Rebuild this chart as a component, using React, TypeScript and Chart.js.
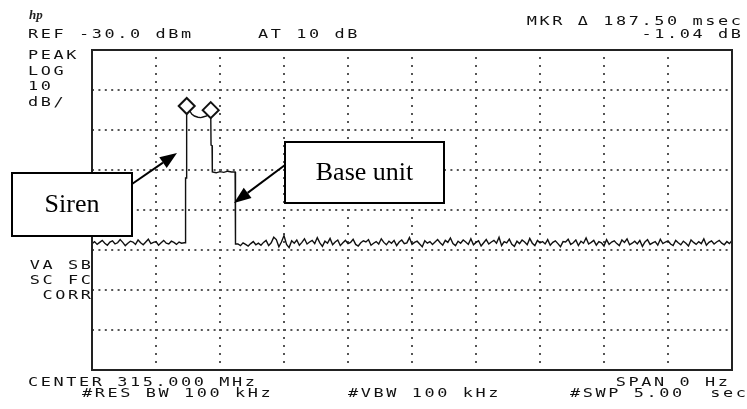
import React, { useEffect, useRef } from "react";
import { Chart, registerables } from "chart.js";

Chart.register(...registerables);

// ---- Instrument settings ----
const sweepTimeSec = 5;
const secPerDiv = 0.5;
const refLevelDbm = -30;
const dbPerDiv = 10;
const logDivisions = 8;

// ---- Trace data (time in s, level in dBm) ----
const noiseStepSec = 0.02;
const noiseBeforeStartSec = 0;
const noiseBeforeDbm = [
  -78.4, -77.9, -78.6, -78.1, -77.6, -78.3, -78.8, -78.0, -77.7, -78.5,
  -78.2, -77.4, -78.1, -78.9, -78.3, -77.8, -78.0, -78.6, -77.5, -78.2,
  -78.7, -78.0, -77.3, -78.4, -78.1, -77.9, -78.8, -78.2, -77.6, -78.3,
  -78.5, -77.8, -78.1, -78.6, -78.0, -78.3, -78.2,
];

const burstTimeSec = [
  0.728, 0.731, 0.737, 0.739, 0.740, 0.760, 0.779, 0.800, 0.828, 0.850,
  0.867, 0.896, 0.915, 0.9275, 0.930, 0.938, 0.940, 0.970, 1.000, 1.030,
  1.060, 1.090, 1.118, 1.121,
];
const burstDbm = [
  -78.2, -62.0, -62.0, -44.2, -44.0, -45.0, -46.0, -46.5, -46.8, -46.9,
  -46.75, -46.5, -45.8, -45.04, -53.75, -53.9, -60.5, -60.7, -60.4, -60.6,
  -60.3, -60.5, -60.5, -78.5,
];

const noiseAfterStartSec = 1.14;
const noiseAfterDbm = [
  -78.5, -78.9, -78.2, -78.6, -79.0, -78.4, -77.9, -78.7, -78.3, -78.8,
  -78.1, -77.6, -78.9, -78.2, -76.8, -77.4, -79.2, -78.0, -76.4, -78.6,
  -79.4, -77.7, -78.3, -77.5, -78.8, -78.1, -77.2, -78.5, -78.0, -77.6,
  -78.4, -76.9, -78.2, -79.1, -77.8, -78.3, -77.1, -78.7, -78.0, -77.5,
  -78.9, -78.2, -77.6, -78.4, -78.1, -77.3, -78.6, -79.0, -78.2, -77.7,
  -78.0, -77.4, -78.8, -78.3, -77.9, -78.5, -77.2, -78.1, -78.7, -77.8,
  -78.3, -77.6, -78.9, -78.0, -77.5, -78.4, -78.2, -76.9, -78.6, -78.1,
  -77.8, -78.5, -79.2, -77.7, -78.3, -77.9, -78.6, -78.0, -77.4, -78.2,
  -78.8, -77.6, -78.1, -77.0, -78.4, -78.9, -77.8, -78.3, -77.5, -78.0,
  -78.6, -77.2, -78.7, -78.1, -77.7, -79.0, -78.2, -77.4, -78.5, -78.0,
  -77.6, -78.3, -76.8, -78.9, -77.9, -78.2, -77.3, -78.6, -79.1, -77.8,
  -78.4, -77.5, -78.0, -78.7, -77.1, -78.3, -78.9, -77.6, -78.2, -77.9,
  -78.5, -77.4, -78.8, -78.1, -77.7, -78.4, -79.2, -77.9, -78.0, -77.3,
  -78.6, -78.2, -77.5, -78.9, -77.8, -78.3, -77.0, -78.5, -78.1, -77.6,
  -78.8, -77.9, -78.2, -79.0, -77.4, -78.6, -78.0, -77.7, -78.4, -78.9,
  -77.5, -78.1, -77.2, -78.7, -78.3, -77.8, -78.5, -77.6, -79.1, -78.0,
  -77.4, -78.6, -78.2, -77.9, -78.8, -77.3, -78.4, -78.0, -77.7, -78.5,
  -78.9, -77.6, -78.2, -78.7, -77.8, -78.3, -79.0, -77.5, -78.1, -78.6,
  -77.9, -78.4, -77.2, -78.8, -78.1, -77.7, -78.5, -78.0, -77.6, -78.3,
  -78.7, -77.9, -78.4, -77.6,
];

const markerTimeSec = [0.74, 0.9275];
const markerDbm = [-44.0, -45.04];

// ---- Screen annotations ----
const headerLeft = "REF -30.0 dBm";
const headerMid = "AT 10 dB";
const headerMkr = "MKR \u0394 187.50 msec";
const headerMkrVal = "-1.04 dB";
const sideTop = ["PEAK", "LOG", "10", "dB/"];
const sideBottom = ["VA SB", "SC FC", "CORR"];
const footLeft1 = "CENTER 315.000 MHz";
const footLeft2 = "#RES BW 100 kHz";
const footMid2 = "#VBW 100 kHz";
const footRight1 = "SPAN 0 Hz";
const footRight2 = "#SWP 5.00  sec";
const calloutSiren = "Siren";
const calloutBase = "Base unit";

const HP_PITCH = 12.75;

function hpText(ctx: CanvasRenderingContext2D, s: string, x: number, y: number, align: "left" | "right" = "left") {
  ctx.save();
  ctx.font = '12.5px "DejaVu Sans Mono"';
  ctx.fillStyle = "#111";
  ctx.textBaseline = "alphabetic";
  const sx = 1.35;
  const adv = ctx.measureText("M").width;
  const ls = HP_PITCH / sx - adv;
  (ctx as any).letterSpacing = ls + "px";
  const total = s.length * HP_PITCH - ls * sx;
  const left = align === "right" ? x - total : x;
  ctx.translate(left, y);
  ctx.scale(sx, 1);
  ctx.textAlign = "left";
  ctx.fillText(s, 0, 0);
  ctx.restore();
}

function arrow(ctx: CanvasRenderingContext2D, x1: number, y1: number, x2: number, y2: number) {
  const ang = Math.atan2(y2 - y1, x2 - x1);
  const hl = 17;
  const hw = 6.5;
  const bx = x2 - hl * Math.cos(ang);
  const by = y2 - hl * Math.sin(ang);
  ctx.save();
  ctx.strokeStyle = "#000";
  ctx.fillStyle = "#000";
  ctx.lineWidth = 2;
  ctx.beginPath();
  ctx.moveTo(x1, y1);
  ctx.lineTo(bx, by);
  ctx.stroke();
  ctx.beginPath();
  ctx.moveTo(x2, y2);
  ctx.lineTo(bx + hw * Math.sin(ang), by - hw * Math.cos(ang));
  ctx.lineTo(bx - hw * Math.sin(ang), by + hw * Math.cos(ang));
  ctx.closePath();
  ctx.fill();
  ctx.restore();
}

function callout(ctx: CanvasRenderingContext2D, text: string, x: number, y: number, w: number, h: number) {
  ctx.save();
  ctx.fillStyle = "#fff";
  ctx.fillRect(x, y, w, h);
  ctx.strokeStyle = "#000";
  ctx.lineWidth = 2;
  ctx.strokeRect(x, y, w, h);
  ctx.fillStyle = "#000";
  ctx.font = '26px "Liberation Serif"';
  ctx.textAlign = "center";
  ctx.textBaseline = "middle";
  ctx.fillText(text, x + w / 2, y + h / 2 + 1);
  ctx.restore();
}

const overlayPlugin = {
  id: "hpOverlay",
  afterDraw(chart: any) {
    const ctx: CanvasRenderingContext2D = chart.ctx;
    const a = chart.chartArea;
    // frame
    ctx.save();
    ctx.strokeStyle = "#222";
    ctx.lineWidth = 2;
    ctx.strokeRect(a.left, a.top, a.right - a.left, a.bottom - a.top);
    ctx.restore();

    // hp logo
    ctx.save();
    ctx.font = 'italic bold 13px "Liberation Serif"';
    ctx.fillStyle = "#222";
    ctx.fillText("hp", 29, 19);
    ctx.restore();

    hpText(ctx, headerLeft, 28, 38);
    hpText(ctx, headerMid, 258, 38);
    hpText(ctx, headerMkr, 741, 25, "right");
    hpText(ctx, headerMkrVal, 741, 38, "right");
    const topBase = [59, 75, 90, 106];
    sideTop.forEach((s, i) => hpText(ctx, s, 28, topBase[i]));
    const botBase = [269, 284, 299];
    sideBottom.forEach((s, i) => hpText(ctx, s, 91, botBase[i], "right"));
    hpText(ctx, footLeft1, 28, 386);
    hpText(ctx, footLeft2, 82, 397);
    hpText(ctx, footMid2, 348, 397);
    hpText(ctx, footRight1, 728, 386, "right");
    hpText(ctx, footRight2, 570, 397);

    callout(ctx, calloutSiren, 12, 173, 120, 63);
    callout(ctx, calloutBase, 285, 142, 159, 61);
    arrow(ctx, 132, 184, 177, 153);
    arrow(ctx, 285, 165, 234, 203);
  },
};

export default function App() {
  const ref = useRef<HTMLCanvasElement | null>(null);
  useEffect(() => {
    if (!ref.current) return;
    const trace: { x: number; y: number }[] = [];
    noiseBeforeDbm.forEach((v, i) => trace.push({ x: noiseBeforeStartSec + i * noiseStepSec, y: v }));
    burstTimeSec.forEach((t, i) => trace.push({ x: t, y: burstDbm[i] }));
    noiseAfterDbm.forEach((v, i) => trace.push({ x: noiseAfterStartSec + i * noiseStepSec, y: v }));
    const markers = markerTimeSec.map((t, i) => ({ x: t, y: markerDbm[i] }));

    const chart = new Chart(ref.current, {
      type: "line",
      data: {
        datasets: [
          {
            data: markers,
            showLine: false,
            pointStyle: "rectRot",
            pointRadius: 8,
            pointBackgroundColor: "#fff",
            pointBorderColor: "#111",
            pointBorderWidth: 2,
          } as any,
          {
            data: trace,
            borderColor: "#111",
            borderWidth: 1.4,
            pointRadius: 0,
            tension: 0,
            fill: false,
          },
        ],
      },
      options: {
        responsive: false,
        animation: false,
        events: [],
        layout: { padding: { left: 92, right: 15, top: 50, bottom: 39 } },
        plugins: { legend: { display: false }, tooltip: { enabled: false } },
        scales: {
          x: {
            type: "linear",
            min: 0,
            max: sweepTimeSec,
            ticks: { display: false, stepSize: secPerDiv },
            grid: { color: "#555", lineWidth: 2, drawTicks: false },
            border: { display: false, dash: [2, 6], dashOffset: 1 },
          },
          y: {
            type: "linear",
            min: refLevelDbm - dbPerDiv * logDivisions,
            max: refLevelDbm,
            ticks: { display: false, stepSize: dbPerDiv },
            grid: { color: "#555", lineWidth: 2, drawTicks: false },
            border: { display: false, dash: [2, 4.4], dashOffset: 0 },
          },
        },
      } as any,
      plugins: [overlayPlugin],
    });
    return () => chart.destroy();
  }, []);
  return (
    <div style={{ position: "fixed", left: 0, top: 0, width: 747, height: 409, background: "#fff" }}>
      <canvas ref={ref} width={747} height={409} style={{ width: 747, height: 409 }} />
    </div>
  );
}
